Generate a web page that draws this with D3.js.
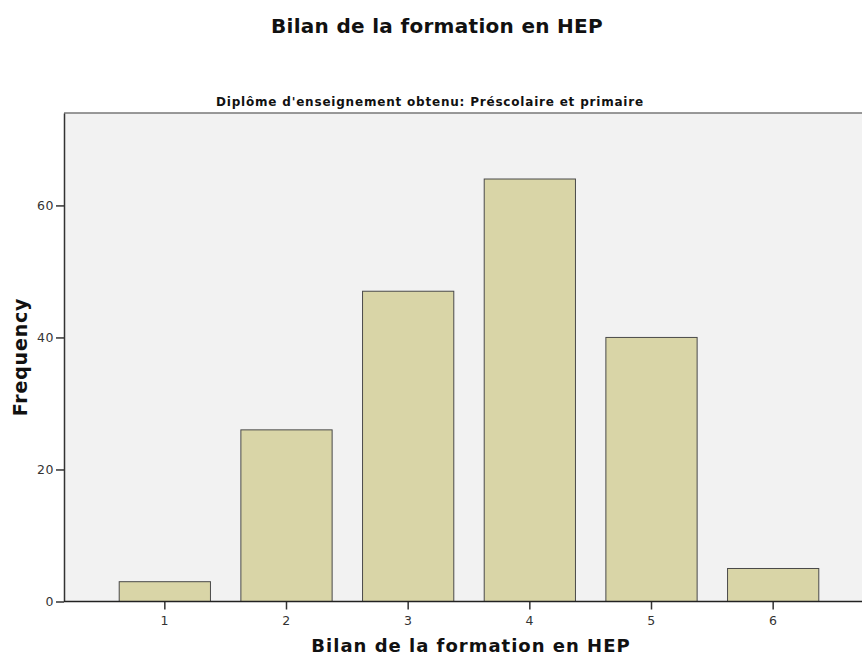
<!DOCTYPE html>
<html lang="fr">
<head>
    <meta charset="UTF-8">
    <title>Bilan de la formation en HEP</title>
    <script src="https://d3js.org/d3.v7.min.js"></script>
    <style>
        body {
            margin: 0;
            overflow: hidden;
            background: #fff;
        }
        text {
            font-family: "DejaVu Sans", sans-serif;
            fill: #111;
        }
    </style>
</head>
<body>
    <script>
        // données
        const categories = ["1", "2", "3", "4", "5", "6"];
        const frequencies = [3, 26, 47, 64, 40, 5];
        const yTicks = [0, 20, 40, 60];

        const width = 862;
        const height = 656;

        const plot = { left: 64, top: 113, right: 862, bottom: 601.5 };

        const svg = d3.select("body").append("svg")
            .attr("width", width)
            .attr("height", height);

        const x = d3.scaleBand()
            .domain(categories)
            .range([104, 834])
            .paddingInner(0.25)
            .paddingOuter(0.125);

        const y = d3.scaleLinear()
            .domain([0, 74])
            .range([plot.bottom, plot.top]);

        // fond de la zone de tracé
        svg.append("rect")
            .attr("x", plot.left)
            .attr("y", plot.top)
            .attr("width", plot.right - plot.left)
            .attr("height", plot.bottom - plot.top)
            .attr("fill", "#f2f2f2");

        // bord supérieur
        svg.append("line")
            .attr("x1", plot.left).attr("x2", plot.right)
            .attr("y1", plot.top).attr("y2", plot.top)
            .attr("stroke", "#777")
            .attr("stroke-width", 1.5);

        // barres
        svg.append("g")
            .selectAll("rect")
            .data(frequencies)
            .enter().append("rect")
            .attr("x", (d, i) => x(categories[i]))
            .attr("y", d => y(d))
            .attr("width", x.bandwidth())
            .attr("height", d => y(0) - y(d))
            .attr("fill", "#d9d5a7")
            .attr("stroke", "#4a4a4a")
            .attr("stroke-width", 1);

        // axe Y
        const yAxis = svg.append("g")
            .attr("transform", `translate(${plot.left},0)`)
            .call(d3.axisLeft(y).tickValues(yTicks).tickSize(8).tickSizeOuter(0).tickPadding(2));
        yAxis.select(".domain").attr("stroke", "#333").attr("stroke-width", 1.5);
        yAxis.selectAll(".tick line").attr("stroke", "#333").attr("stroke-width", 1.5);

        // axe X
        const xAxis = svg.append("g")
            .attr("transform", `translate(0,${plot.bottom})`)
            .call(d3.axisBottom(x).tickSize(8).tickPadding(7));
        xAxis.select(".domain").remove();
        xAxis.selectAll(".tick line").attr("stroke", "#333").attr("stroke-width", 1.5);
        svg.append("line")
            .attr("x1", plot.left).attr("x2", plot.right)
            .attr("y1", plot.bottom).attr("y2", plot.bottom)
            .attr("stroke", "#222")
            .attr("stroke-width", 1.5);

        svg.selectAll(".tick text")
            .style("font-family", "\"DejaVu Sans\", sans-serif")
            .style("font-size", "12.5px")
            .style("letter-spacing", "0.6px")
            .style("fill", "#333");

        // titres
        svg.append("text")
            .attr("x", 437)
            .attr("y", 33)
            .attr("text-anchor", "middle")
            .style("font-size", "20px")
            .style("font-weight", "bold")
            .style("letter-spacing", "0.3px")
            .text("Bilan de la formation en HEP");

        svg.append("text")
            .attr("x", 430)
            .attr("y", 106)
            .attr("text-anchor", "middle")
            .style("font-size", "12px")
            .style("font-weight", "bold")
            .style("letter-spacing", "0.8px")
            .text("Diplôme d'enseignement obtenu: Préscolaire et primaire");

        svg.append("text")
            .attr("x", 471)
            .attr("y", 652)
            .attr("text-anchor", "middle")
            .style("font-size", "18px")
            .style("font-weight", "bold")
            .style("letter-spacing", "1px")
            .text("Bilan de la formation en HEP");

        svg.append("text")
            .attr("transform", "translate(27,357) rotate(-90)")
            .attr("text-anchor", "middle")
            .style("font-size", "19px")
            .style("font-weight", "bold")
            .style("letter-spacing", "0.8px")
            .text("Frequency");
    </script>
</body>
</html>
